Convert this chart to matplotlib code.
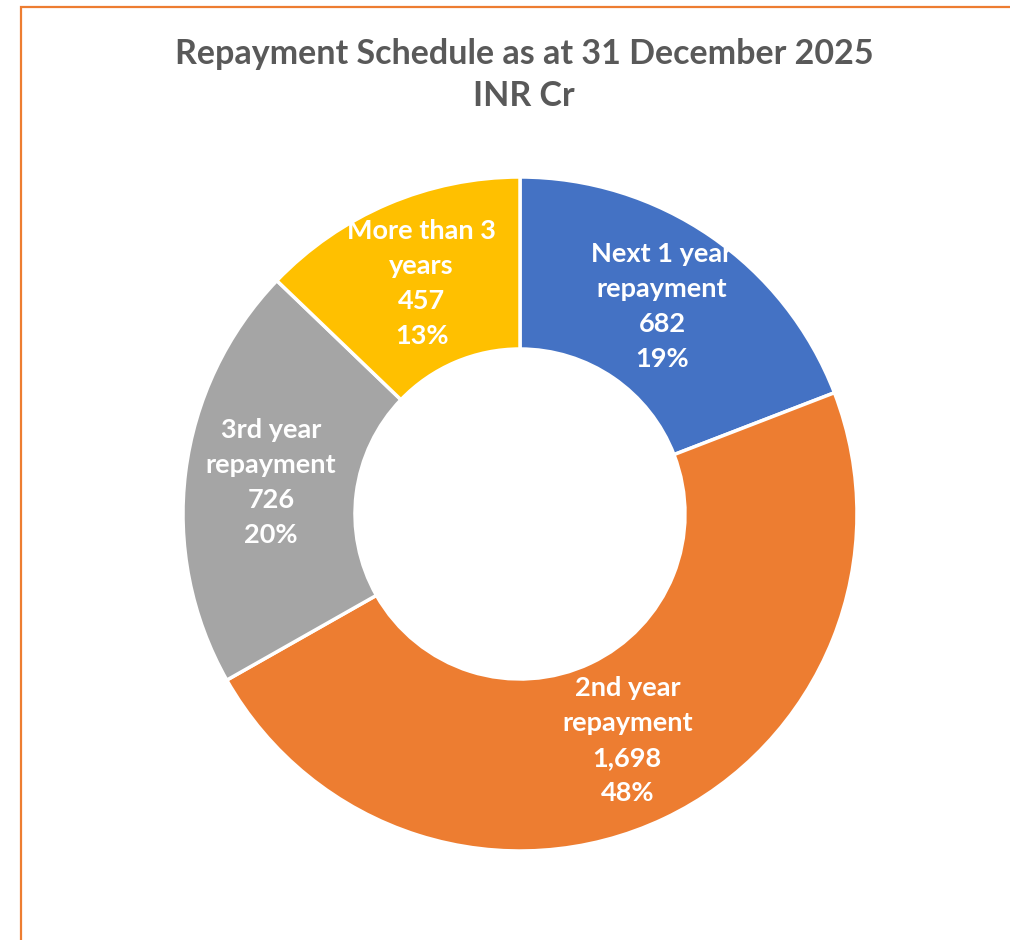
import numpy as np
import matplotlib
matplotlib.use("Agg")
import matplotlib.pyplot as plt
from matplotlib.patches import Rectangle

plt.rcParams['font.family'] = ['Lato', 'DejaVu Sans']

# data
categories = ['Next 1 year\nrepayment', '2nd year\nrepayment', '3rd year\nrepayment', 'More than 3\nyears']
values = [682, 1698, 726, 457]
colors = ['#4472C4', '#ED7D31', '#A5A5A5', '#FFC000']
title = 'Repayment Schedule as at 31 December 2025\nINR Cr'

W, H = 1010, 940
fig = plt.figure(figsize=(W / 100, H / 100), dpi=100)

# chart border (orange, cut off at right and bottom)
fig.patches.append(Rectangle((21 / W, -0.1), 1.2, 1.1 - 7 / H, transform=fig.transFigure,
                             fill=False, edgecolor='#ED7D31', linewidth=1.6))

cx, cy, r = 520, 514, 337
ax = fig.add_axes([(cx - r) / W, (H - cy - r) / H, 2 * r / W, 2 * r / H])

wedges, _ = ax.pie(values, colors=colors, startangle=90, counterclock=False, radius=1,
                   wedgeprops=dict(width=1 - 165 / 337, edgecolor='white', linewidth=2.5))
ax.set_xlim(-1, 1)
ax.set_ylim(-1, 1)
ax.set_aspect('equal')
ax.axis('off')

total = sum(values)
for w, cat, v in zip(wedges, categories, values):
    mid = np.deg2rad((w.theta1 + w.theta2) / 2)
    d = 0.745
    txt = f"{cat}\n{v:,}\n{v / total:.0%}"
    ax.text(d * np.cos(mid), d * np.sin(mid), txt, ha='center', va='center',
            color='white', fontsize=19.5, fontweight='bold', linespacing=1.55)

fig.text(524 / W, 1 - 75 / H, title, ha='center', va='center', color='#595959',
         fontsize=24.5, fontweight='bold', linespacing=1.42)

fig.savefig('out.png', dpi=100, facecolor='white')
